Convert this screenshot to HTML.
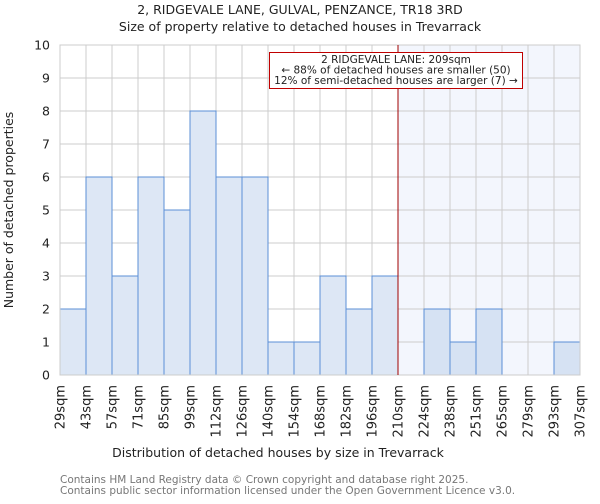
<!DOCTYPE html>
<html><head><meta charset="utf-8"><style>
body{margin:0;background:#fff;font-family:"DejaVu Sans","Liberation Sans",sans-serif;}
svg text{font-family:"DejaVu Sans","Liberation Sans",sans-serif;}
</style></head><body>
<svg id="c" width="600" height="500" xmlns="http://www.w3.org/2000/svg">
<text x="300" y="14" text-anchor="middle" font-size="12.5" fill="#222">2, RIDGEVALE LANE, GULVAL, PENZANCE, TR18 3RD</text>
<text x="300" y="31" text-anchor="middle" font-size="12.5" fill="#222">Size of property relative to detached houses in Trevarrack</text>
<g id="plot"></g>
<text x="278" y="457" text-anchor="middle" font-size="12.5" fill="#222">Distribution of detached houses by size in Trevarrack</text>
<text transform="translate(13,210) rotate(-90)" text-anchor="middle" font-size="12.5" fill="#222">Number of detached properties</text>
<text x="60" y="483" font-size="10.5" fill="#777">Contains HM Land Registry data © Crown copyright and database right 2025.</text>
<text x="60" y="494" font-size="10.5" fill="#777">Contains public sector information licensed under the Open Government Licence v3.0.</text>
</svg>
<script>
const edges=["29sqm","43sqm","57sqm","71sqm","85sqm","99sqm","112sqm","126sqm","140sqm","154sqm","168sqm","182sqm","196sqm","210sqm","224sqm","238sqm","251sqm","265sqm","279sqm","293sqm","307sqm"];
const counts=[2,6,3,6,5,8,6,6,1,1,3,2,3,0,2,1,2,0,0,1];
const yTicks=[0,1,2,3,4,5,6,7,8,9,10];
const markerIndex=13;
const X0=60,X1=580,Y0=375,Y1=45,YMAX=10;
const bw=(X1-X0)/counts.length;
const x=i=>X0+i*bw;
const y=v=>Y0-(v/YMAX)*(Y0-Y1);
const ns="http://www.w3.org/2000/svg";
const g=document.getElementById('plot');
function mk(t,a){const e=document.createElementNS(ns,t);for(const k in a)e.setAttribute(k,a[k]);g.appendChild(e);return e;}
let e=mk('rect',{x:x(markerIndex),y:Y1,width:X1-x(markerIndex),height:Y0-Y1,fill:'#f3f6fd'});


yTicks.forEach(t=>{
 let l=mk('line',{x1:X0,x2:X1,y1:y(t),y2:y(t),stroke:'#cccccc','stroke-width':1});
 
 
 let tx=mk('text',{x:X0-10,y:y(t)+4.5,'text-anchor':'end','font-size':12.5,fill:'#222'});
 tx.textContent=t;
 
 
});
edges.forEach((s,i)=>{
 let l=mk('line',{x1:x(i),x2:x(i),y1:Y1,y2:Y0,stroke:'#cccccc','stroke-width':1});
 
 
 let tx=mk('text',{transform:`translate(${x(i)+4.5},${Y0+10}) rotate(-90)`,'text-anchor':'end','font-size':13,fill:'#222'});
 tx.textContent=s;
 
 
});
counts.forEach((c,i)=>{
 if(c<=0)return;
 let r=mk('rect',{x:x(i),y:y(c),width:bw,height:Y0-y(c),fill:i>=markerIndex?'#d6e2f3':'#dde7f5',stroke:'#5b8fd6','stroke-width':1});
 
 
});
e=mk('rect',{x:X0,y:Y1,width:X1-X0,height:Y0-Y1,fill:'none',stroke:'#cccccc','stroke-width':1});


e=mk('line',{x1:x(markerIndex),x2:x(markerIndex),y1:Y1,y2:Y0,stroke:'#a00000','stroke-width':1});


e=mk('rect',{x:269.5,y:52.5,width:253,height:36,fill:'#fff',stroke:'#c00000','stroke-width':1});


["2 RIDGEVALE LANE: 209sqm","← 88% of detached houses are smaller (50)","12% of semi-detached houses are larger (7) →"].forEach((s,k)=>{
 let t=mk('text',{x:396,y:63+k*10.5,'text-anchor':'middle','font-size':10.5,fill:'#222'});
 t.textContent=s;
 
 
});
</script>
</body></html>
